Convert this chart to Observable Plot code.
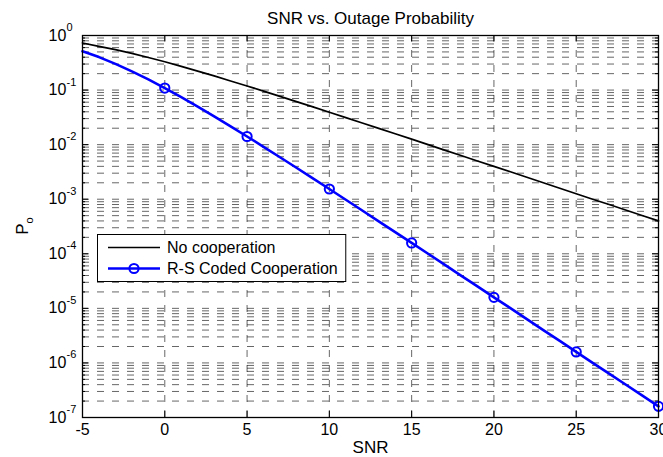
<!DOCTYPE html>
<html><head><meta charset="utf-8">
<script src="https://cdn.jsdelivr.net/npm/d3@7"></script>
<script src="https://cdn.jsdelivr.net/npm/@observablehq/plot@0.6"></script>
<style>body{margin:0;background:#fff}</style>
</head><body><div id="chart"></div>
<script>
// ---- data ----
const snr = [-5,-4,-3,-2,-1,0,1,2,3,4,5,6,7,8,9,10,11,12,13,14,15,16,17,18,19,20,21,22,23,24,25,26,27,28,29,30];
const noCooperation = [0.730,0.634,0.550,0.470,0.396,0.330,0.272,0.223,0.182,0.147,0.119,0.0956,0.0767,0.0614,0.0491,0.0392,0.0313,0.0249,0.0199,0.0158,0.0126,0.0100,0.00795,0.00632,0.00502,0.00399,0.00318,0.00252,0.00200,0.00159,0.00126,0.00100,0.000798,0.000634,0.000504,0.000400];
const rsCoded = [0.515,0.402,0.302,0.220,0.157,0.109,0.0741,0.0498,0.0330,0.0217,0.0141,0.00914,0.00588,0.00377,0.00241,0.00154,0.000978,0.000621,0.000394,0.000249,0.000158,0.000100,6.32e-5,3.99e-5,2.52e-5,1.59e-5,1.01e-5,6.35e-6,4.0e-6,2.53e-6,1.59e-6,1.0e-6,6.37e-7,4.02e-7,2.54e-7,1.6e-7];
const markerSnr = [0,5,10,15,20,25,30];
const xTicks = [-5,0,5,10,15,20,25,30];
const yExponents = [0,-1,-2,-3,-4,-5,-6,-7];
const minorMantissas = [2,3,4,5,6,7,8,9];
const titleText = "SNR vs. Outage Probability";
const xLabelText = "SNR";
const yLabelMain = "P", yLabelSub = "o";
const seriesNames = ["No cooperation", "R-S Coded Cooperation"];

// ---- derived tables ----
const lineA = snr.map((s,i)=>({x:s, y:noCooperation[i]}));
const lineB = snr.map((s,i)=>({x:s, y:rsCoded[i]}));
const markers = lineB.filter(d=>markerSnr.includes(d.x));
const majors = yExponents.map(e=>Math.pow(10,e));
const minors = [];
yExponents.slice(1).forEach(e=>minorMantissas.forEach(m=>minors.push(m*Math.pow(10,e))));
const gridY = [...minors, ...majors.slice(1,-1)];
const gridX = xTicks.slice(1,-1);

const W=663, H=457, ML=82, MR=5, MT=35, MB=40;
const FW=W-ML-MR, FH=H-MT-MB;
const font = "Liberation Sans, Arial, Helvetica, sans-serif";
const gridStyle = {stroke:"#000", strokeOpacity:0.6, strokeWidth:1, strokeDasharray:"7,8"};

const chart = Plot.plot({
  width: W, height: H,
  marginLeft: ML, marginRight: MR, marginTop: MT, marginBottom: MB,
  style: {fontFamily: font, background: "white", overflow: "visible"},
  x: {domain: [-5, 30], axis: null},
  y: {type: "log", domain: [1e-7, 1], axis: null},
  marks: [
    Plot.ruleY(gridY, {y: d=>d, ...gridStyle}),
    Plot.ruleX(gridX, {x: d=>d, ...gridStyle}),
    Plot.tickY(majors, {y: d=>d, insetRight: FW-6, stroke:"#000"}),
    Plot.tickY(majors, {y: d=>d, insetLeft: FW-6, stroke:"#000"}),
    Plot.tickY(minors, {y: d=>d, insetRight: FW-3, stroke:"#000"}),
    Plot.tickY(minors, {y: d=>d, insetLeft: FW-3, stroke:"#000"}),
    Plot.tickX(xTicks, {x: d=>d, insetTop: FH-6, stroke:"#000"}),
    Plot.tickX(xTicks, {x: d=>d, insetBottom: FH-6, stroke:"#000"}),
    Plot.line(lineA, {x:"x", y:"y", stroke:"#000", strokeWidth:1.7}),
    Plot.line(lineB, {x:"x", y:"y", stroke:"#0000ff", strokeWidth:2.6}),
    Plot.dot(markers, {x:"x", y:"y", r:4.6, stroke:"#0000ff", strokeWidth:2, fill:"none"}),
    Plot.frame({stroke:"#000", strokeWidth:1.3}),
    Plot.text(xTicks, {x: d=>d, text: d=>String(d), frameAnchor:"bottom", lineAnchor:"middle", dy: 12, fontSize: 16}),
    Plot.text(yExponents, {y: e=>Math.pow(10,e), text: ()=>"10", frameAnchor:"left", textAnchor:"start", lineAnchor:"middle", dx: -34, fontSize: 16}),
    Plot.text(yExponents, {y: e=>Math.pow(10,e), text: e=>String(e), frameAnchor:"left", textAnchor:"start", lineAnchor:"middle", dx: -16, dy: -8, fontSize: 11}),
    Plot.text([titleText], {frameAnchor:"top", lineAnchor:"middle", dy: -17, fontSize: 17}),
    Plot.text([xLabelText], {frameAnchor:"bottom", lineAnchor:"middle", dy: 30, fontSize: 17})
  ]
});
document.getElementById("chart").appendChild(chart);

// y label with subscript
const svg = d3.select(chart);
const yl = svg.append("text")
  .attr("transform", "translate(28,226) rotate(-90)")
  .attr("text-anchor", "middle")
  .attr("font-family", font).attr("font-size", 17).attr("fill", "#000");
yl.append("tspan").text(yLabelMain);
yl.append("tspan").attr("font-size", 11).attr("dy", 5).text(yLabelSub);

// legend
const lg = svg.append("g").attr("font-family", font).attr("font-size", 16).attr("text-anchor", "start");
const box = lg.append("rect").attr("x", 97.5).attr("y", 234.5).attr("height", 47)
  .attr("fill", "white").attr("stroke", "#000").attr("stroke-width", 1);
const rows = [
  {name: seriesNames[0], color: "#000", w: 1.7, marker: false, y: 247.5},
  {name: seriesNames[1], color: "#0000ff", w: 2.6, marker: true, y: 268.5}
];
let maxLen = 0;
rows.forEach(r=>{
  lg.append("line").attr("x1", 108).attr("x2", 160).attr("y1", r.y).attr("y2", r.y)
    .attr("stroke", r.color).attr("stroke-width", r.w);
  if (r.marker) lg.append("circle").attr("cx", 134).attr("cy", r.y).attr("r", 4.6)
    .attr("fill", "none").attr("stroke", r.color).attr("stroke-width", 2);
  const t = lg.append("text").attr("x", 167).attr("y", r.y).attr("dy", "0.35em")
    .attr("text-anchor", "start").attr("fill", "#000").text(r.name);
  maxLen = Math.max(maxLen, t.node().getComputedTextLength());
});
box.attr("width", 167 + maxLen + 8 - 97.5);
</script>
</body></html>
